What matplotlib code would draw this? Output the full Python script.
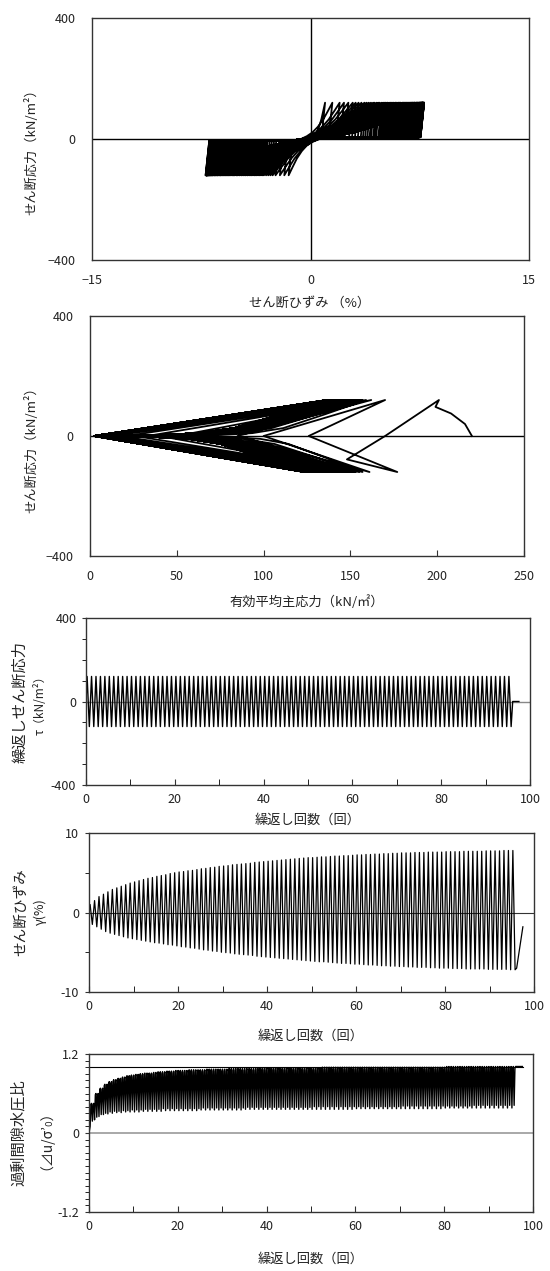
import numpy as np
import matplotlib
matplotlib.use('Agg')
import matplotlib.pyplot as plt
from matplotlib.ticker import MultipleLocator

plt.rcParams['font.family'] = ['Noto Sans CJK JP', 'DejaVu Sans']

# ---- data ----
n_cyc = 96
tau_amp = 120.0          # kN/m2, constant cyclic shear stress
t_end = 97.5             # end of record (cycles)
gam_end = -1.8           # strain at the end of record (%)

# strain peaks per cycle (%)
gam_pos = [1.0, 1.5, 2.0, 2.3, 2.6, 2.9, 3.1, 3.3, 3.5, 3.7,
           3.85, 4.0, 4.15, 4.3, 4.4, 4.55, 4.65, 4.75, 4.9, 5.0,
           5.1, 5.15, 5.25, 5.3, 5.4, 5.5, 5.55, 5.65, 5.7, 5.8,
           5.85, 5.9, 6.0, 6.05, 6.1, 6.15, 6.2, 6.3, 6.35, 6.4,
           6.45, 6.5, 6.55, 6.6, 6.65, 6.7, 6.75, 6.8, 6.85, 6.9,
           6.9, 6.95, 7.0, 7.0, 7.05, 7.1, 7.1, 7.15, 7.15, 7.2,
           7.25, 7.25, 7.3, 7.3, 7.35, 7.35, 7.4, 7.4, 7.45, 7.45,
           7.5, 7.5, 7.5, 7.55, 7.55, 7.55, 7.6, 7.6, 7.6, 7.6,
           7.65, 7.65, 7.65, 7.65, 7.7, 7.7, 7.7, 7.7, 7.7, 7.75,
           7.75, 7.75, 7.75, 7.8, 7.8, 7.8]
gam_neg = [-1.5, -1.8, -2.1, -2.4, -2.6, -2.75, -2.9, -3.05, -3.2, -3.3,
           -3.4, -3.5, -3.6, -3.7, -3.8, -3.85, -3.95, -4.05, -4.1, -4.2,
           -4.3, -4.35, -4.45, -4.5, -4.6, -4.7, -4.75, -4.85, -4.9, -5.0,
           -5.05, -5.1, -5.2, -5.25, -5.3, -5.35, -5.4, -5.5, -5.55, -5.6,
           -5.65, -5.7, -5.75, -5.8, -5.85, -5.9, -5.95, -6.0, -6.05, -6.1,
           -6.15, -6.2, -6.2, -6.25, -6.3, -6.35, -6.4, -6.4, -6.45, -6.5,
           -6.5, -6.55, -6.6, -6.6, -6.65, -6.7, -6.7, -6.75, -6.75, -6.8,
           -6.8, -6.85, -6.85, -6.9, -6.9, -6.9, -6.95, -6.95, -7.0, -7.0,
           -7.0, -7.05, -7.05, -7.05, -7.1, -7.1, -7.1, -7.1, -7.1, -7.15,
           -7.15, -7.15, -7.15, -7.15, -7.2, -7.2]

# effective mean stress path (kN/m2)
first_p = [220, 216, 208, 199, 201]
first_t = [0, 40, 75, 97, 120]
dip_p, dip_t = 148, -78
p_pos = [201, 170, 162, 159, 157, 156, 155, 154, 153.5, 153,
         152.5, 152, 151.5, 151, 150.5, 150, 149.5, 149, 148.7, 148.4,
         148.1, 147.8, 147.5, 147.2, 146.9, 146.6, 146.3, 146.0, 145.7, 145.4,
         145.1, 144.8, 144.6, 144.4, 144.2, 144.0, 143.8, 143.6, 143.4, 143.2,
         143.0, 142.8, 142.6, 142.4, 142.2, 142.0, 141.8, 141.6, 141.4, 141.2,
         141.0, 140.9, 140.8, 140.7, 140.6, 140.5, 140.4, 140.3, 140.2, 140.1,
         140.0, 139.9, 139.8, 139.7, 139.6, 139.5, 139.4, 139.3, 139.2, 139.1,
         139.0, 138.9, 138.8, 138.7, 138.6, 138.5, 138.4, 138.3, 138.2, 138.1,
         138.0, 137.9, 137.8, 137.7, 137.6, 137.5, 137.4, 137.3, 137.2, 137.1,
         137.0, 136.9, 136.8, 136.7, 136.6, 136.5]
p_neg = [177, 161, 157, 155, 153, 152, 151, 150, 149, 148,
         147, 146.2, 145.4, 144.6, 143.8, 143.0, 142.3, 141.6, 140.9, 140.2,
         139.6, 139.0, 138.4, 137.8, 137.2, 136.7, 136.2, 135.7, 135.2, 134.7,
         134.3, 133.9, 133.5, 133.1, 132.7, 132.3, 131.9, 131.6, 131.3, 131.0,
         130.7, 130.4, 130.1, 129.8, 129.5, 129.3, 129.1, 128.9, 128.7, 128.5,
         128.3, 128.1, 127.9, 127.7, 127.5, 127.4, 127.3, 127.2, 127.1, 127.0,
         126.9, 126.8, 126.7, 126.6, 126.5, 126.4, 126.3, 126.2, 126.1, 126.0,
         125.9, 125.8, 125.7, 125.6, 125.5, 125.4, 125.3, 125.2, 125.1, 125.0,
         124.9, 124.8, 124.7, 124.6, 124.5, 124.4, 124.3, 124.2, 124.1, 124.0,
         123.9, 123.8, 123.7, 123.6, 123.5, 123.4]
# p' where tau crosses zero after each positive / negative peak
p_cross_pos = [170, 100, 62, 40, 26, 17, 11, 7, 5, 4] + [3.0] * 10 + [2.5] * 76
p_cross_neg = [126, 85, 50, 33, 21, 13, 9, 6, 4.5, 3.5] + [2.8] * 10 + [2.5] * 76

# shape of an unloading branch in the p'-tau plane (fractions)
unl_s = [1.0, 0.8, 0.6, 0.45, 0.3, 0.1, 0.0]
unl_t = [1.0, 0.6, 0.22, 0.08, 0.03, 0.01, 0.0]
# shape of a loading branch in the strain-stress plane (fractions)
load_s = [0.0, 0.15, 0.3, 0.45, 0.6, 0.75, 0.88, 1.0]
load_t = [0.0, 0.03, 0.1, 0.2, 0.35, 0.55, 0.78, 1.0]

# excess pore pressure ratio per cycle
ru_hi = [0.45, 0.60, 0.68, 0.74, 0.78, 0.81, 0.83, 0.85, 0.87, 0.88,
         0.89, 0.90, 0.91, 0.91, 0.92, 0.93, 0.93, 0.94, 0.94, 0.95,
         0.95, 0.95, 0.96, 0.96, 0.96, 0.96, 0.97, 0.97, 0.97, 0.97,
         0.97, 0.98, 0.98, 0.98, 0.98, 0.98, 0.98, 0.98, 0.99, 0.99] \
        + [0.99] * 12 + [1.00] * 28 + [1.01] * 16
ru_lo_pos = [0.10, 0.20, 0.25, 0.28, 0.29, 0.30, 0.31, 0.31, 0.32, 0.32,
             0.32, 0.32, 0.33, 0.33, 0.33, 0.33, 0.33, 0.34, 0.34, 0.34] \
            + [0.34] * 5 + [0.35] * 10 + [0.36] * 25 + [0.37] * 20 + [0.38] * 16
ru_lo_neg = [0.18, 0.24, 0.28, 0.30, 0.32, 0.33, 0.33, 0.34, 0.34, 0.35,
             0.35, 0.35, 0.36, 0.36, 0.36, 0.36, 0.37, 0.37, 0.37, 0.37] \
            + [0.37] * 5 + [0.38] * 10 + [0.39] * 15 + [0.40] * 20 + [0.41] * 16 + [0.42] * 10
ru_ref = 1.0
ru_ref_x = [0, 97.7]

# ---- build the series ----
t_pos = [k + 0.25 for k in range(n_cyc)]
t_neg = [k + 0.75 for k in range(n_cyc)]

# cyclic stress and strain vs cycles
t_tau, tau, gam = [0.0], [0.0], [0.0]
for k in range(n_cyc):
    t_tau += [t_pos[k], t_neg[k]]
    tau += [tau_amp, -tau_amp]
    gam += [gam_pos[k], gam_neg[k]]
t_tau += [t_neg[-1] + 0.35, t_end]
tau += [0.0, 0.0]
gam += [gam_neg[-1] + 0.2, gam_end]

# stress-strain loops
du, g_turn = 0.25, 1.0
sg, st = [0.0], [0.0]


def branch(g0, y0, g1, y1):
    for s, t in zip(load_s[1:], load_t[1:]):
        sg.append(g0 + s * (g1 - g0))
        st.append(y0 + t * (y1 - y0))


branch(0.0, 0.0, gam_pos[0], tau_amp)
for k in range(n_cyc):
    gu = gam_pos[k] - du
    ga = min(gu, g_turn)
    sg += [gu, ga]
    st += [6, 3]
    branch(ga, 3, gam_neg[k], -tau_amp)
    gu = gam_neg[k] + du
    if k < n_cyc - 1:
        gb = max(gu, -g_turn)
        sg += [gu, gb]
        st += [-6, -3]
        branch(gb, -3, gam_pos[k + 1], tau_amp)
    else:
        sg += [gu, gam_end]
        st += [-6, -3]

# stress path
pp, pt = list(first_p), list(first_t)
for k in range(n_cyc):
    for A, sign, pc, B in [(p_pos[k], 1, p_cross_pos[k], p_neg[k]),
                           (p_neg[k], -1, p_cross_neg[k], p_pos[k + 1] if k < n_cyc - 1 else None)]:
        if pc > 60:
            pp.append(pc)
            pt.append(0.0)
        else:
            for s, t in zip(unl_s[1:], unl_t[1:]):
                pp.append(pc + s * (A - pc))
                pt.append(sign * t * tau_amp)
        if k == 0 and sign == 1:
            pp.append(dip_p)
            pt.append(dip_t)
        if B is not None:
            pp.append(B)
            pt.append(-sign * tau_amp)

# pore pressure ratio
rt, rv = [0.0], [0.0]
for k in range(n_cyc):
    for tp, lo in [(t_pos[k], ru_lo_pos[k]), (t_neg[k], ru_lo_neg[k])]:
        rt += [tp, tp + 0.18, tp + 0.32]
        rv += [lo, ru_hi[k] * 0.97, ru_hi[k]]
rt.append(ru_ref_x[1] - 0.1)
rv.append(ru_hi[-1])

# ---- figure ----
W, H = 550, 1271
fig = plt.figure(figsize=(W / 100, H / 100), dpi=100)


def add_ax(x0, x1, y0, y1):
    return fig.add_axes([x0 / W, 1 - y1 / H, (x1 - x0) / W, (y1 - y0) / H])


def ftext(x, y, s, size, rot=90):
    fig.text(x / W, 1 - y / H, s, fontsize=size, rotation=rot,
             ha='center', va='center', color='#222222')


def style(ax):
    for sp in ax.spines.values():
        sp.set_linewidth(1.0)
        sp.set_color('#333333')
    ax.tick_params(labelsize=9, colors='#333333', labelcolor='#222222')


lc = 'black'

# panel 1
ax1 = add_ax(92, 529, 18, 260)
style(ax1)
ax1.plot(sg, st, color=lc, lw=1.3)
ax1.axhline(0, color='black', lw=1.0)
ax1.axvline(0, color='black', lw=1.0)
ax1.set_xlim(-15, 15)
ax1.set_ylim(-400, 400)
ax1.set_xticks([-15, 0, 15])
ax1.set_yticks([-400, 0, 400])
ax1.tick_params(length=0)
ax1.tick_params(axis='x', pad=10)
ax1.tick_params(axis='y', pad=12)
ftext(31, 149, 'せん断応力（kN/m²）', 9.5)
ftext(310, 303, 'せん断ひずみ （%）', 9.5, rot=0)

# panel 2
ax2 = add_ax(90, 524, 316, 556)
style(ax2)
ax2.plot(pp, pt, color=lc, lw=1.3)
ax2.axhline(0, color='black', lw=1.0)
ax2.set_xlim(0, 250)
ax2.set_ylim(-400, 400)
ax2.set_xticks(np.arange(0, 251, 50))
ax2.set_yticks([-400, 0, 400])
ax2.tick_params(axis='x', direction='in', length=4, pad=10)
ax2.tick_params(axis='y', length=0, pad=12)
ftext(31, 447, 'せん断応力（kN/m²）', 9.5)
ftext(307, 602, '有効平均主応力（kN/㎡）', 9.5, rot=0)


def cyc_axis(ax, ymax, ymaj, ymin):
    style(ax)
    ax.set_xlim(0, 100)
    ax.set_ylim(-ymax, ymax)
    ax.xaxis.set_major_locator(MultipleLocator(20))
    ax.xaxis.set_minor_locator(MultipleLocator(10))
    ax.yaxis.set_major_locator(MultipleLocator(ymaj))
    ax.yaxis.set_minor_locator(MultipleLocator(ymin))
    ax.tick_params(axis='x', which='both', direction='in', length=4, pad=6)
    ax.tick_params(axis='y', which='both', direction='out', length=3, pad=4)


# panel 3
ax3 = add_ax(86, 530, 618, 785)
cyc_axis(ax3, 400, 400, 100)
ax3.axhline(0, color='#888888', lw=1.0)
ax3.plot(t_tau, tau, color=lc, lw=1.0)
ftext(20, 702, '繰返しせん断応力', 11)
ftext(40, 702, 'τ（kN/m²）', 8.5)
ftext(308, 820, '繰返し回数（回）', 9.5, rot=0)

# panel 4
ax4 = add_ax(89, 534, 833, 992)
cyc_axis(ax4, 10, 10, 5)
ax4.axhline(0, color='#333333', lw=0.8)
ax4.plot(t_tau, gam, color=lc, lw=0.9)
ftext(21, 912, 'せん断ひずみ', 10.5)
ftext(40, 912, 'γ(%)', 9)
ftext(311, 1036, '繰返し回数（回）', 9.5, rot=0)

# panel 5
ax5 = add_ax(89, 533, 1054, 1212)
cyc_axis(ax5, 1.2, 1.2, 0.1)
ax5.axhline(0, color='#999999', lw=1.2)
ax5.plot(ru_ref_x, [ru_ref, ru_ref], color='black', lw=0.8)
ax5.plot(rt, rv, color=lc, lw=1.0)
ax5.yaxis.set_major_formatter(plt.FuncFormatter(lambda v, p: f'{v:.1f}' if v != 0 else '0'))
ftext(18, 1133, '過剰間隙水圧比', 11)
ftext(39, 1133, '（⊿u/σ’₀）', 10)
ftext(311, 1259, '繰返し回数（回）', 9.5, rot=0)

for ax in (ax3, ax4):
    ax.yaxis.set_major_formatter(plt.FuncFormatter(lambda v, p: f'{v:g}'))

fig.savefig('out.png', dpi=100)
